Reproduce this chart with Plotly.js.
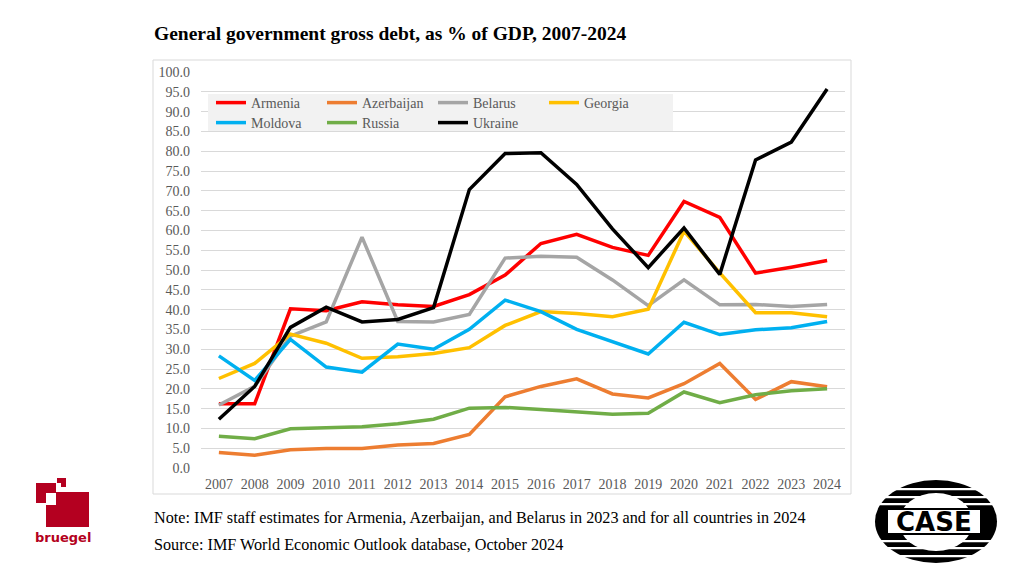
<!DOCTYPE html>
<html>
<head>
<meta charset="utf-8">
<script src="https://cdn.plot.ly/plotly-3.0.1.min.js"></script>
<style>html,body{margin:0;padding:0;background:#fff;}#chart{width:1024px;height:576px;}</style>
</head>
<body>
<div id="chart"></div>
<script>
// ---- data ----
const years = ["2007","2008","2009","2010","2011","2012","2013","2014","2015","2016","2017","2018","2019","2020","2021","2022","2023","2024"];
const armenia    = [16.2,16.2,40.2,39.7,42.0,41.2,40.8,43.8,48.7,56.7,59.0,55.7,53.7,67.3,63.3,49.2,50.7,52.4];
const azerbaijan = [3.9,3.2,4.6,4.9,4.9,5.8,6.2,8.5,18.0,20.6,22.5,18.7,17.7,21.3,26.4,17.3,21.8,20.5];
const belarus    = [15.9,20.6,33.3,36.9,58.3,37.0,36.9,38.8,53.0,53.5,53.2,47.5,41.0,47.5,41.2,41.3,40.8,41.3];
const georgia    = [22.6,26.4,33.8,31.5,27.7,28.1,28.9,30.4,36.0,39.5,39.0,38.2,40.1,59.8,49.3,39.2,39.2,38.2];
const moldova    = [28.3,22.1,32.5,25.5,24.2,31.3,30.0,35.0,42.4,39.5,35.0,31.9,28.8,36.8,33.7,34.9,35.4,37.0];
const russia     = [8.0,7.4,9.9,10.1,10.4,11.2,12.3,15.1,15.3,14.8,14.3,13.6,13.8,19.2,16.5,18.5,19.5,20.0];
const ukraine    = [12.3,20.6,35.5,40.6,36.9,37.5,40.5,70.3,79.4,79.6,71.6,60.4,50.6,60.6,48.9,77.8,82.3,95.7];
const seriesNames = ["Armenia","Azerbaijan","Belarus","Georgia","Moldova","Russia","Ukraine"];
const seriesValues = [armenia, azerbaijan, belarus, georgia, moldova, russia, ukraine];
const seriesColors = ["#ff0000","#ed7d31","#a5a5a5","#ffc000","#00b0f0","#70ad47","#000000"];
const titleText = "General government gross debt, as % of GDP, 2007-2024";
const noteText = "Note: IMF staff estimates for Armenia, Azerbaijan, and Belarus in 2023 and for all countries in 2024";
const sourceText = "Source: IMF World Economic Outlook database, October 2024";

// ---- pixel helpers for layout (non-data) elements ----
const L = 201, R = 845, T = 72, B = 468;
const px = x => (x - L) / (R - L);
const py = y => (B - y) / (B - T);

const serif = "Liberation Serif, Times New Roman, serif";

const traces = seriesNames.map((n, i) => ({
  type: "scatter", mode: "lines", name: n, x: years, y: seriesValues[i],
  line: {color: seriesColors[i], width: 3.5},
  legend: i < 4 ? "legend" : "legend2",
  hoverinfo: "x+y+name"
}));

function rect(x0, y0, x1, y1, fill, line) {
  return {type: "rect", xref: "paper", yref: "paper", x0: px(x0), x1: px(x1), y0: py(y1), y1: py(y0),
          fillcolor: fill, line: line || {width: 0}, layer: "above"};
}
const red = "#b40020";
const shapes = [
  // chart area border
  rect(153, 60, 851, 494, "rgba(0,0,0,0)", {color: "#d9d9d9", width: 1}),
  // legend background
  rect(208, 94, 673, 131, "#f2f2f2"),
  // bruegel logo
  rect(36, 483, 56, 493, red),
  rect(36, 483, 46, 503, red),
  rect(56, 492, 89, 527, red),
  rect(46, 505, 56, 527, red),
  rect(57, 478, 66, 487, red),
  rect(57, 483, 61, 487, "#ffffff"),
  // CASE logo
  {type: "circle", xref: "paper", yref: "paper", x0: px(875), x1: px(997), y0: py(563), y1: py(480),
   fillcolor: "#000", line: {width: 0}, layer: "above"},
  {type: "circle", xref: "paper", yref: "paper", x0: px(899), x1: px(973), y0: py(551), y1: py(493),
   fillcolor: "#fff", line: {width: 0}, layer: "above"}
];
[488, 496, 503, 540, 547, 555].forEach(y => shapes.push(rect(872, y, 1000, y + 2.2, "#ffffff")));
shapes.push(rect(887, 509, 981, 534, "#ffffff", {color: "#000", width: 2}));

const annotations = [
  {text: "<b>" + titleText + "</b>", x: px(152), y: py(33), xanchor: "left", yanchor: "middle",
   font: {family: serif, size: 19.5, color: "#000"}},
  {text: noteText, x: px(152), y: py(518), xanchor: "left", yanchor: "middle",
   font: {family: serif, size: 16.2, color: "#000"}},
  {text: sourceText, x: px(152), y: py(545), xanchor: "left", yanchor: "middle",
   font: {family: serif, size: 16.2, color: "#000"}},
  {text: "<b>bruegel</b>", x: px(63), y: py(537), xanchor: "center", yanchor: "middle",
   font: {family: "DejaVu Sans", size: 13, color: red}},
  {text: "<b>CASE</b>", x: px(934), y: py(522), xanchor: "center", yanchor: "middle",
   font: {family: "DejaVu Sans", size: 26, color: "#000"}}
].map(a => Object.assign({xref: "paper", yref: "paper", showarrow: false}, a));

const legendBase = {
  orientation: "h", xanchor: "left", yanchor: "middle", bgcolor: "rgba(0,0,0,0)",
  font: {family: serif, size: 14, color: "#595959"}, itemwidth: 30,
  entrywidth: 66, entrywidthmode: "pixels", borderwidth: 0, tracegroupgap: 0
};

const layout = {
  width: 1024, height: 576,
  margin: {l: L, r: 1024 - R, t: T, b: 576 - B, pad: 0},
  paper_bgcolor: "#ffffff", plot_bgcolor: "#ffffff",
  showlegend: true,
  legend: Object.assign({}, legendBase, {x: px(211), y: py(103)}),
  legend2: Object.assign({}, legendBase, {x: px(211), y: py(123)}),
  xaxis: {type: "category", range: [-0.5, 17.5], showgrid: false, zeroline: false, showline: false,
          ticks: "", ticklabelstandoff: 6, tickfont: {family: serif, size: 14, color: "#595959"}, fixedrange: true},
  yaxis: {range: [0, 100], dtick: 5, tick0: 0, tickformat: ".1f", showgrid: true, gridcolor: "#d9d9d9", gridwidth: 1,
          zeroline: false, showline: false, ticks: "", ticklabelstandoff: 10,
          tickfont: {family: serif, size: 14, color: "#595959"}, fixedrange: true},
  shapes: shapes,
  annotations: annotations
};

Plotly.newPlot("chart", traces, layout, {staticPlot: true, displayModeBar: false});
</script>
</body>
</html>
